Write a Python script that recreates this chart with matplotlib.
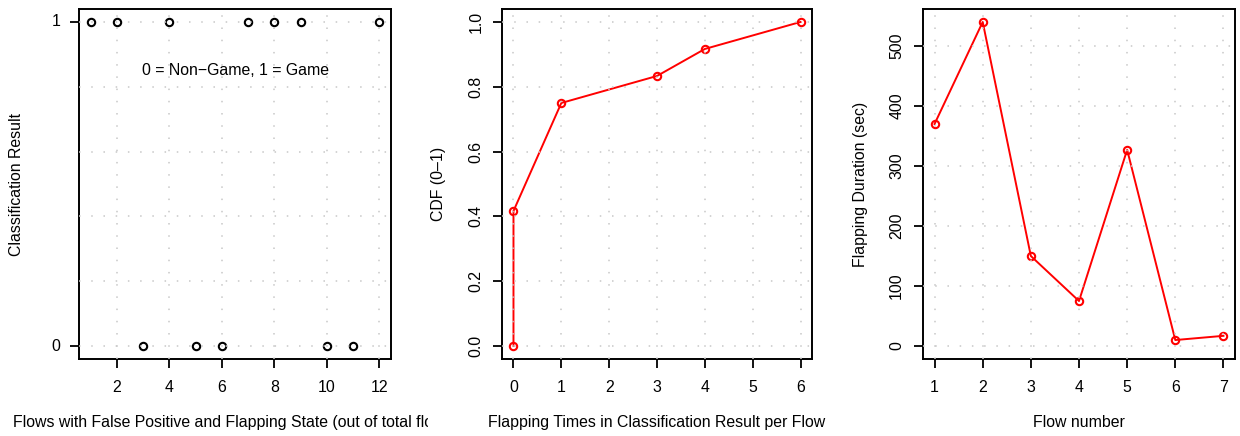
import numpy as np
import matplotlib
matplotlib.use("Agg")
import matplotlib.pyplot as plt
from matplotlib.transforms import Bbox, TransformedBbox

plt.rcParams['font.family'] = ['Liberation Sans', 'DejaVu Sans']
plt.rcParams['font.size'] = 11.4

# Classification result per flow (0 = non-game, 1 = game)
flow_ids = np.arange(1, 13)
class_result = [1, 1, 0, 1, 0, 0, 1, 1, 1, 0, 0, 1]

# CDF of flapping times per flow
flap_times = [0, 0, 1, 3, 4, 6]
flap_cdf = [0.0, 5 / 12, 9 / 12, 10 / 12, 11 / 12, 1.0]

# Flapping duration per flow
flow_number = [1, 2, 3, 4, 5, 6, 7]
flap_duration = [370, 540, 150, 75, 327, 10, 17]

RED = "#ff0000"
GRID_KW = dict(color="#c8c8c8", lw=1.1, linestyle=(0, (1.0, 7.0)), zorder=3)
MARK_KW = dict(ms=5.3, mfc="none", mew=1.5)


def style_axes(ax, ylab_rot=90):
    for s in ax.spines.values():
        s.set_linewidth(1.4)
    ax.tick_params(direction="out", length=6.5, width=1.3, pad=7, labelsize=11.4)
    ax.tick_params(axis="x", pad=8.5)
    for lab in ax.get_yticklabels():
        lab.set_rotation(ylab_rot)
        lab.set_va("center")
    ax.margins(x=0.04, y=0.04)


def add_grid(ax, xs, ys):
    for v in xs:
        ax.axvline(v, **GRID_KW)
    for v in ys:
        ax.axhline(v, **GRID_KW)


fig = plt.figure(figsize=(12.4, 4.36), dpi=100)
W, H = 1240, 436


def make_ax(left, right, top=9, bottom=359):
    return fig.add_axes([left / W, (H - bottom) / H, (right - left) / W, (bottom - top) / H])


# Panel 1: classification result
ax1 = make_ax(79, 391)
ax1.plot(flow_ids, class_result, "o", mec="black", zorder=2, **MARK_KW)
ax1.set_xticks([2, 4, 6, 8, 10, 12])
ax1.set_yticks([0, 1])
add_grid(ax1, [2, 4, 6, 8, 10, 12], np.arange(0, 1.01, 0.2))
ax1.text(6.5, 0.85, "0 = Non\u2212Game, 1 = Game", ha="center", va="center")
style_axes(ax1, ylab_rot=0)

# Panel 2: CDF of flapping times
ax2 = make_ax(502, 812)
ax2.plot(flap_times, flap_cdf, "-o", color=RED, lw=1.4, mec=RED, zorder=2, **MARK_KW)
ax2.set_xticks(range(0, 7))
ax2.set_yticks(np.arange(0, 1.01, 0.2))
ax2.set_yticklabels([f"{v:.1f}" for v in np.arange(0, 1.01, 0.2)])
add_grid(ax2, range(0, 7), np.arange(0, 1.01, 0.2))
style_axes(ax2)

# Panel 3: flapping duration per flow
ax3 = make_ax(923, 1235)
ax3.plot(flow_number, flap_duration, "-o", color=RED, lw=1.4, mec=RED, zorder=2, **MARK_KW)
ax3.set_xticks(flow_number)
ax3.set_yticks(range(0, 501, 100))
add_grid(ax3, flow_number, range(0, 501, 100))
style_axes(ax3)

# axis titles
fig.text(16.5 / W, (H - 184) / H, "Classification Result", rotation=90, ha="center", va="center")
fig.text(438 / W, (H - 184) / H, "CDF (0\u20131)", rotation=90, ha="center", va="center")
fig.text(861 / W, (H - 184) / H, "Flapping Duration (sec)", rotation=90, ha="center", va="center")

xl1 = fig.text(235 / W, (H - 422) / H,
               "Flows with False Positive and Flapping State (out of total flows)",
               ha="center", va="center")
xl1.set_clip_box(TransformedBbox(Bbox.from_extents(0, 0, 428 / W, 1), fig.transFigure))
xl1.set_clip_on(True)
fig.text(657 / W, (H - 422) / H, "Flapping Times in Classification Result per Flow", ha="center", va="center")
fig.text(1079 / W, (H - 422) / H, "Flow number", ha="center", va="center")

fig.savefig("out.png", dpi=100, facecolor="white")
